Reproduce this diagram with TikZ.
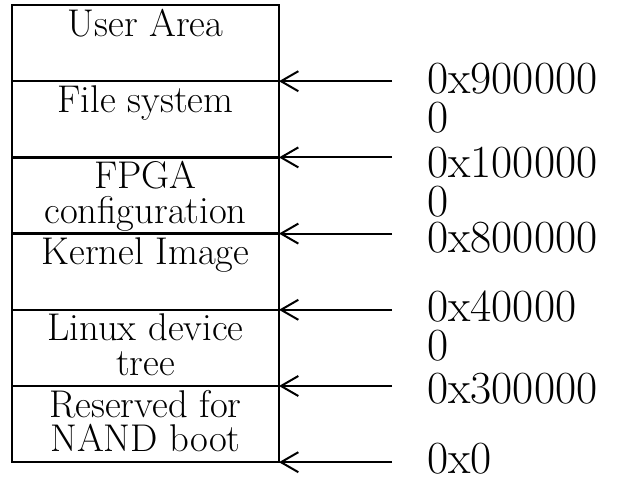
\documentclass[tikz,border=0pt]{standalone}
\usetikzlibrary{arrows.meta}
\begin{document}
\begin{tikzpicture}[x=0.75pt,y=-0.75pt,
  rowbox/.style={draw,line width=1.8pt,minimum width=200.25pt,minimum height=57.15pt,anchor=north west,inner sep=0pt,outer sep=0pt},
  rowtext/.style={anchor=base,inner sep=0pt,align=center,font=\fontsize{29}{26}\selectfont},
  addr/.style={anchor=base west,inner sep=0pt,align=left,font=\fontsize{34.5}{29}\selectfont},
  arr/.style={line width=1.5pt,-{Straight Barb[length=13pt,width=15pt,line width=1.5pt]}}]
\useasboundingbox (0,0) rectangle (618,479);
\node[rowbox] (r1) at (12,5) {};
\node[rowbox] (r2) at (r1.south west) {};
\node[rowbox] (r3) at (r2.south west) {};
\node[rowbox] (r4) at (r3.south west) {};
\node[rowbox] (r5) at (r4.south west) {};
\node[rowbox] (r6) at (r5.south west) {};
\node[rowtext] (l1) at ([yshift=-23.25pt]r1.north) {User Area};
\node[rowtext] (l2) at ([yshift=-23.25pt]r2.north) {File system};
\node[rowtext] (l3) at ([yshift=-49.25pt]r3.north) {FPGA\\configuration};
\node[rowtext] (l4) at ([yshift=-23.25pt]r4.north) {Kernel Image};
\node[rowtext] (l5) at ([yshift=-49.25pt]r5.north) {Linux device\\tree};
\node[rowtext] (l6) at ([yshift=-49.25pt]r6.north) {Reserved for\\NAND boot};
\foreach \i in {1,...,6} {
  \coordinate (t\i) at (392,0 |- r\i.south east);
  \draw[arr] (t\i) -- (r\i.south east);
}
\node[addr] (a1) at (427,132) {0x900000\\0};
\node[addr] (a2) at (427,216) {0x100000\\0};
\node[addr] (a3) at (427,252) {0x800000};
\node[addr] (a4) at (427,360) {0x40000\\0};
\node[addr] (a5) at (427,403) {0x300000};
\node[addr] (a6) at (427,473) {0x0};
\end{tikzpicture}
\end{document}
